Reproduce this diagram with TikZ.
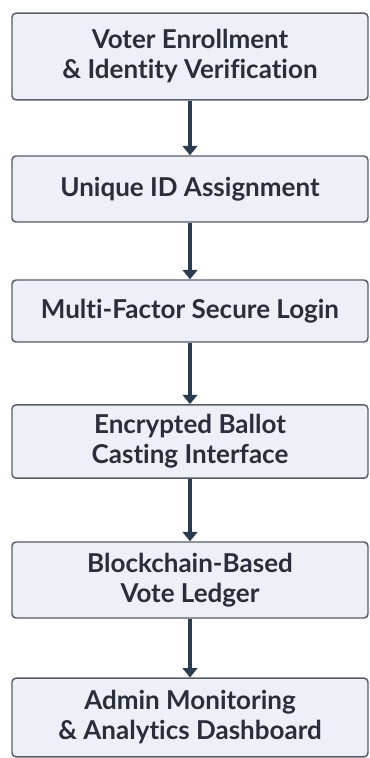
\documentclass[tikz,border=0pt]{standalone}
\usepackage{fontspec}
\setmainfont{Lato}[Ligatures={NoCommon}]
\usetikzlibrary{arrows.meta,positioning}
\definecolor{StpFill}{HTML}{EEF0F8}
\definecolor{StpBord}{HTML}{575C68}
\definecolor{StpText}{HTML}{2A2E3A}
\definecolor{ArrMain}{HTML}{2B3B50}
\tikzset{
  every picture/.append style={font=\bfseries, >=Stealth},
  stepbox/.style={rectangle, rounded corners=3pt, line width=1.1pt, align=center,
                  draw=StpBord, fill=StpFill, text=StpText,
                  minimum width=267pt, inner sep=2pt},
  flow/.style={-{Triangle[length=7pt,width=11pt]}, line width=3.6pt, draw=ArrMain},
}
\begin{document}
\begin{tikzpicture}[x=0.75pt,y=-0.75pt, font=\fontsize{19.5pt}{22.5pt}\selectfont\bfseries]

\useasboundingbox (0,0) rectangle (370,758);

% ======================= voting pipeline, top to bottom ==============================
\node[stepbox, minimum height=65pt] (s1) at (190,56.5)
  {Voter Enrollment\\\& Identity Verification};
\node[stepbox, minimum height=49.5pt] (s2) at (190,189)
  {Unique ID Assignment};
\node[stepbox, minimum height=46.5pt] (s3) at (190,311)
  {Multi-Factor Secure Login};
\node[stepbox, minimum height=55pt] (s4) at (190,441.5)
  {Encrypted Ballot\\Casting Interface};
\node[stepbox, minimum height=57pt] (s5) at (190,580)
  {Blockchain-Based\\Vote Ledger};
\node[stepbox, minimum height=59pt] (s6) at (190,717.5)
  {Admin Monitoring\\\& Analytics Dashboard};

% ======================= arrows =====================================================
\draw[flow] (s1) -- (s2);
\draw[flow] (s2) -- (s3);
\draw[flow] (s3) -- (s4);
\draw[flow] (s4) -- (s5);
\draw[flow] (s5) -- (s6);

\end{tikzpicture}
\end{document}
